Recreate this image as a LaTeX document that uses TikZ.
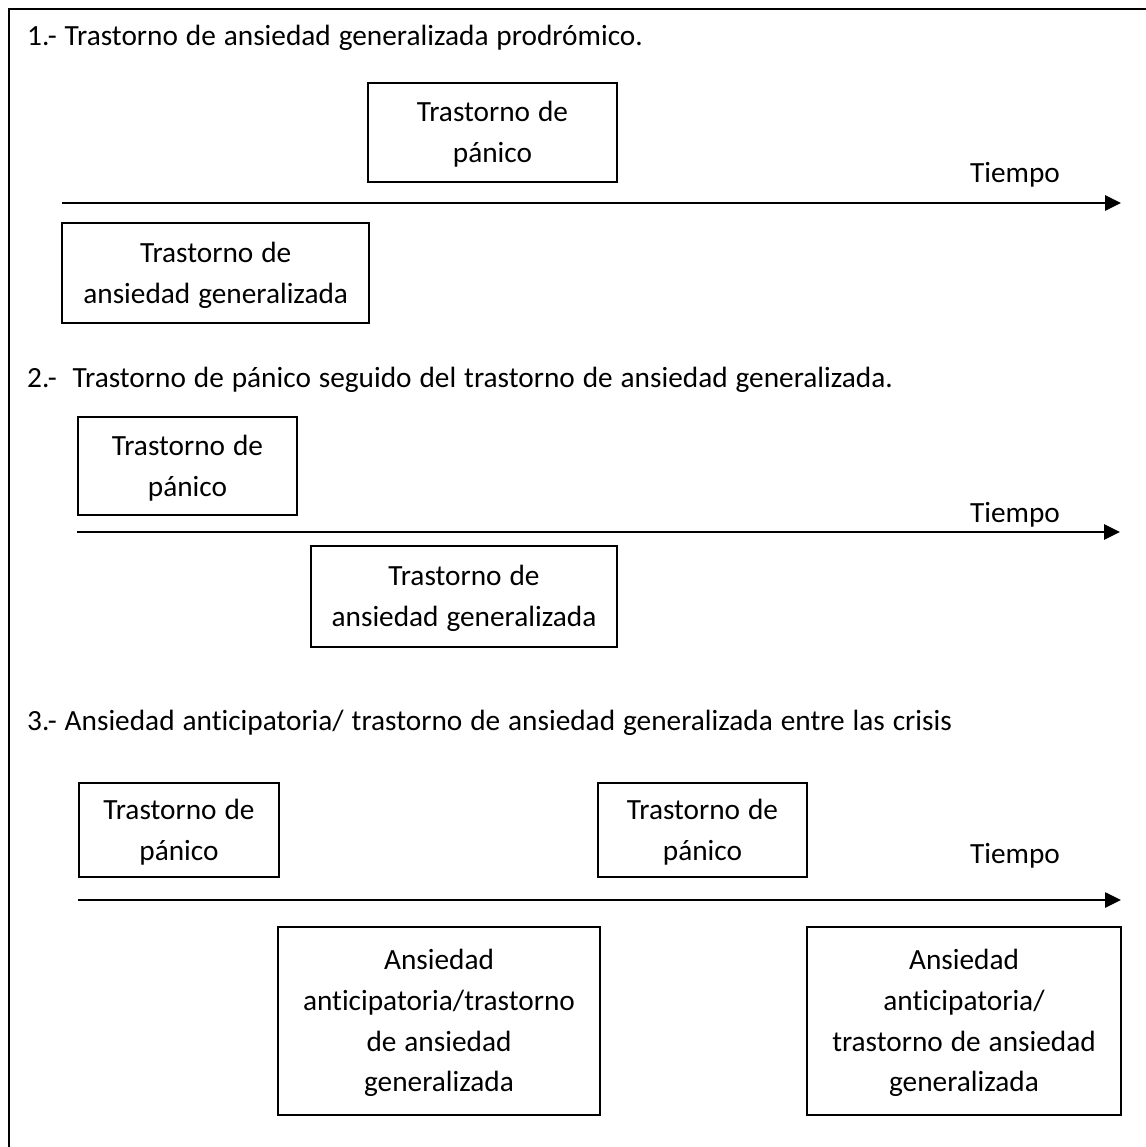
\documentclass[tikz,border=0pt]{standalone}
\usepackage{fontspec}
\setmainfont{Carlito}[WordSpace=1.2, Ligatures=NoCommon]
\usetikzlibrary{arrows.meta}
\newcommand\mystrut{\rule[-10.6pt]{0pt}{40.7pt}}
\begin{document}
\begin{tikzpicture}[x=1pt,y=-1pt,
  boxnode/.style={draw, line width=1.9pt, inner sep=0pt, align=center,
    font=\fontsize{29.3}{40.7}\selectfont},
  plaintxt/.style={inner sep=0pt, font=\fontsize{29.3}{40.7}\selectfont},
  timearrow/.style={line width=2.6pt, -{Triangle[length=16pt,width=15pt]}},
  framestyle/.style={line width=1.6pt}]
\useasboundingbox (0,0) rectangle (1145,1147);
% outer frame (only left and top edges are inside the picture)
\draw[framestyle] (9,1170) -- (9,9) -- (1170,9);

% ---------- Section 1 ----------
\node[plaintxt, anchor=base west] (t1) at (27,46) {1.- Trastorno de ansiedad generalizada prodrómico.};
\node[boxnode, minimum width=249pt, minimum height=99pt] (p1) at (492.5,132.5) {\mystrut Trastorno de\\pánico\mystrut};
\node[plaintxt, anchor=base] (tiempo1) at (1015,183) {Tiempo};
\coordinate (a1s) at (62,203);
\coordinate (a1e) at (1121,203);
\draw[timearrow] (a1s) -- (a1e);
\node[boxnode, minimum width=307pt, minimum height=100pt] (g1) at (215.7,273) {\mystrut Trastorno de\\ansiedad generalizada\mystrut};

% ---------- Section 2 ----------
\node[plaintxt, anchor=base west] (t2) at (27,387) {2.-\ \ Trastorno de pánico seguido del trastorno de ansiedad generalizada.};
\node[boxnode, minimum width=219pt, minimum height=98pt] (p2) at (187.5,466) {\mystrut Trastorno de\\pánico\mystrut};
\node[plaintxt, anchor=base] (tiempo2) at (1015,522) {Tiempo};
\coordinate (a2s) at (77,532);
\coordinate (a2e) at (1120,532);
\draw[timearrow] (a2s) -- (a2e);
\node[boxnode, minimum width=306pt, minimum height=101pt] (g2) at (464,596.5) {\mystrut Trastorno de\\ansiedad generalizada\mystrut};

% ---------- Section 3 ----------
\node[plaintxt, anchor=base west] (t3) at (27,730) {3.- Ansiedad anticipatoria/ trastorno de ansiedad generalizada entre las crisis};
\node[boxnode, minimum width=200pt, minimum height=94pt] (p3a) at (179,830) {\mystrut Trastorno de\\pánico\mystrut};
\node[boxnode, minimum width=209pt, minimum height=94pt] (p3b) at (702.5,830) {\mystrut Trastorno de\\pánico\mystrut};
\node[plaintxt, anchor=base] (tiempo3) at (1015,863) {Tiempo};
\coordinate (a3s) at (78,900);
\coordinate (a3e) at (1121,900);
\draw[timearrow] (a3s) -- (a3e);
\node[boxnode, minimum width=322pt, minimum height=188pt] (an1) at (439,1021) {\mystrut Ansiedad\\anticipatoria/trastorno\\de ansiedad\\generalizada\mystrut};
\node[boxnode, minimum width=314pt, minimum height=188pt] (an2) at (964,1021) {\mystrut Ansiedad\\anticipatoria/\\trastorno de ansiedad\\generalizada\mystrut};
\end{tikzpicture}
\end{document}
